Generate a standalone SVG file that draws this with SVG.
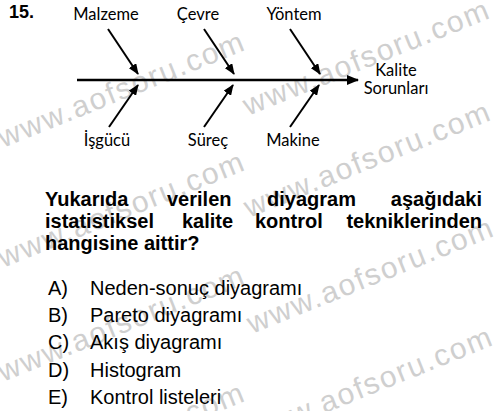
<svg xmlns="http://www.w3.org/2000/svg" width="500" height="411" viewBox="0 0 500 411">
<style>
.wm{font-family:"Liberation Sans",Arial,sans-serif;font-size:30px;fill:#cfcfcf}
.lbl{font-family:Lato,"Open Sans",sans-serif;font-size:16.5px;fill:#000;text-anchor:middle}
.q{font-family:"Liberation Sans",Arial,sans-serif;font-size:20px;font-weight:bold;fill:#000}
.opt{font-family:"Liberation Sans",Arial,sans-serif;font-size:20px;fill:#000}
.arr{stroke:#000;stroke-width:2;fill:none;marker-end:url(#ah)}
.main{stroke:#000;stroke-width:2.6;fill:none;marker-end:url(#ahm)}
</style>
<defs>
<marker id="ah" markerUnits="userSpaceOnUse" markerWidth="11" markerHeight="9" refX="10" refY="4.5" orient="auto">
<path d="M0,0 L11,4.5 L0,9 Z" fill="#000"/>
</marker>
<marker id="ahm" markerUnits="userSpaceOnUse" markerWidth="12" markerHeight="10" refX="11" refY="5" orient="auto">
<path d="M0,0 L12,5 L0,10 Z" fill="#000"/>
</marker>
</defs>
<rect width="500" height="411" fill="#fff"/>
<g id="watermarks">
<text class="wm" transform="translate(3,148) rotate(-22)" textLength="262">www.aofsoru.com</text>
<text class="wm" transform="translate(3,268) rotate(-22)" textLength="262">www.aofsoru.com</text>
<text class="wm" transform="translate(3,382) rotate(-22)" textLength="262">www.aofsoru.com</text>
<text class="wm" transform="translate(3,499) rotate(-22)" textLength="262">www.aofsoru.com</text>
<text class="wm" transform="translate(248,116) rotate(-22)" textLength="262">www.aofsoru.com</text>
<text class="wm" transform="translate(249,218) rotate(-22)" textLength="262">www.aofsoru.com</text>
<text class="wm" transform="translate(252,334) rotate(-22)" textLength="262">www.aofsoru.com</text>
<text class="wm" transform="translate(251,443) rotate(-22)" textLength="262">www.aofsoru.com</text>
</g>
<text x="9" y="18" style="font-family:'Liberation Sans',Arial,sans-serif;font-size:18px;font-weight:bold">15.</text>
<g id="connectors">
<line class="main" x1="77" y1="80" x2="358" y2="80"/>
<line class="arr" x1="108" y1="29" x2="138" y2="74"/>
<line class="arr" x1="204" y1="29" x2="234" y2="74"/>
<line class="arr" x1="290" y1="29" x2="320" y2="74"/>
<line class="arr" x1="109" y1="127" x2="138" y2="85"/>
<line class="arr" x1="204" y1="127" x2="233" y2="85"/>
<line class="arr" x1="290" y1="127" x2="319" y2="85"/>
</g>
<g id="malzeme"><text class="lbl" x="106" y="20">Malzeme</text></g>
<g id="cevre"><text class="lbl" x="198" y="20">Çevre</text></g>
<g id="yontem"><text class="lbl" x="294" y="20">Yöntem</text></g>
<g id="isgucu"><text class="lbl" x="107" y="146">İşgücü</text></g>
<g id="surec"><text class="lbl" x="208" y="146">Süreç</text></g>
<g id="makine"><text class="lbl" x="293" y="146">Makine</text></g>
<g id="kalite"><text class="lbl" x="396" y="76">Kalite</text><text class="lbl" x="396" y="94">Sorunları</text></g>
<g id="question">
<text class="q" x="45" y="206">Yukarıda</text>
<text class="q" x="167" y="206">verilen</text>
<text class="q" x="267" y="206">diyagram</text>
<text class="q" x="482" y="206" text-anchor="end">aşağıdaki</text>
<text class="q" x="45" y="228">istatistiksel</text>
<text class="q" x="182" y="228">kalite</text>
<text class="q" x="255" y="228">kontrol</text>
<text class="q" x="482" y="228" text-anchor="end">tekniklerinden</text>
<text class="q" x="45" y="250">hangisine aittir?</text>
</g>
<g id="options">
<text class="opt" x="48" y="295">A)</text><text class="opt" x="90" y="295">Neden-sonuç diyagramı</text>
<text class="opt" x="48" y="322">B)</text><text class="opt" x="90" y="322">Pareto diyagramı</text>
<text class="opt" x="48" y="349">C)</text><text class="opt" x="90" y="349">Akış diyagramı</text>
<text class="opt" x="48" y="377">D)</text><text class="opt" x="90" y="377">Histogram</text>
<text class="opt" x="48" y="404">E)</text><text class="opt" x="90" y="404">Kontrol listeleri</text>
</g>
</svg>
